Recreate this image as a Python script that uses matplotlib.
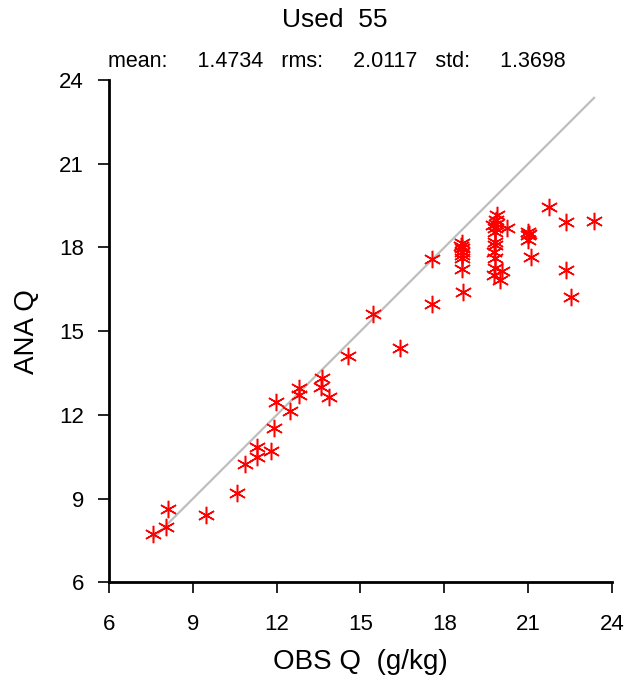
import numpy as np
import matplotlib.pyplot as plt

plt.rcParams['font.family'] = ['Liberation Sans', 'DejaVu Sans']

obs = [7.59, 8.04, 8.10, 9.46, 10.59, 10.87, 11.31, 11.31, 11.79, 11.91,
       11.98, 12.49, 12.80, 12.80, 13.61, 13.58, 13.87, 14.54, 15.46, 16.42,
       17.55, 17.56,
       18.62, 18.62, 18.62, 18.62, 18.62, 18.68, 18.64,
       19.90, 19.85, 19.75, 19.80, 19.80, 19.82, 19.78, 19.80, 19.82, 19.78,
       20.00, 20.05, 19.85,
       20.23, 21.01, 21.01, 21.01, 21.09, 21.03,
       21.76, 22.35, 23.36, 22.35, 22.53, 19.80, 18.60]
ana = [7.75, 7.97, 8.62, 8.41, 9.22, 10.26, 10.86, 10.50, 10.71, 11.52,
       12.47, 12.13, 12.95, 12.73, 13.34, 12.99, 12.65, 14.11, 15.61, 14.41,
       15.96, 17.58,
       18.15, 17.97, 17.73, 17.61, 17.23, 16.41, 17.85,
       19.16, 18.98, 18.80, 18.56, 18.20, 18.09, 17.84, 17.61, 17.25, 17.01,
       16.83, 17.15, 18.85,
       18.68, 18.56, 18.44, 18.27, 17.67, 18.50,
       19.44, 18.90, 18.96, 17.19, 16.23, 18.70, 18.05]

ticks = [6, 9, 12, 15, 18, 21, 24]

fig = plt.figure(figsize=(6.4, 6.8), dpi=100)
ax = fig.add_axes([0.1703, 0.1434, 0.7859, 0.739])

lo, hi = min(obs), max(obs)
ax.plot([lo, hi], [lo, hi], color='#bebebe', lw=1.6, zorder=1)
ax.plot(obs, ana, ls='none', marker=(6, 2, 0), ms=12.5, mec='red', mew=1.1, zorder=2)

ax.set_xlim(6, 24)
ax.set_ylim(6, 24)
ax.set_xticks(ticks)
ax.set_yticks(ticks)
ax.tick_params(direction='out', length=8, width=1.2, labelsize=16, pad=15)
ax.tick_params(axis='y', pad=10)
for s in ['top', 'right']:
    ax.spines[s].set_visible(False)
for s in ['left', 'bottom']:
    ax.spines[s].set_linewidth(2)

ax.set_xlabel('OBS Q  (g/kg)', fontsize=20, labelpad=10)
ax.set_ylabel('ANA Q', fontsize=20, labelpad=14)

fig.text(0.523, 0.970, 'Used  55', ha='center', va='center', fontsize=19)
fig.text(0.527, 0.909, 'mean:     1.4734   rms:     2.0117   std:     1.3698',
         ha='center', va='center', fontsize=15.5)

fig.savefig('out.png', dpi=100)
